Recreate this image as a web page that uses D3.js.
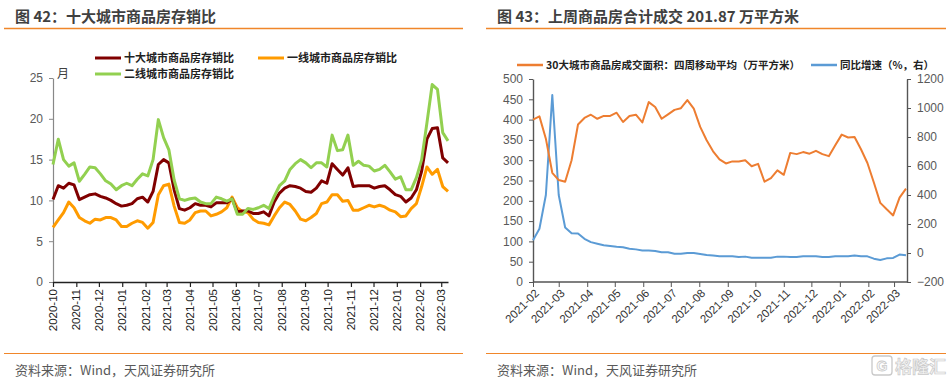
<!DOCTYPE html>
<html><head><meta charset="utf-8">
<script src="https://cdn.jsdelivr.net/npm/d3@7"></script>
<style>
html,body{margin:0;padding:0;background:#fff;}
svg{display:block;}
text{font-family:"Liberation Sans",Arial,"Noto Sans CJK SC",sans-serif;}
.cjk{font-family:"Noto Sans CJK SC","Liberation Sans",sans-serif;}
</style></head>
<body>
<svg id="c" width="948" height="382"></svg>
<script>
// ---------- Left chart data (weekly, 存销比, 月) ----------
const leftStart = "2020-10-01";
const leftTicks = ["2020-10","2020-11","2020-12","2021-01","2021-02","2021-03","2021-04","2021-05","2021-06","2021-07","2021-08","2021-09","2021-10","2021-11","2021-12","2022-01","2022-02","2022-03"];
const leftYTicks = [0,5,10,15,20,25];
const tenCity = [10.1,11.8,11.5,12.1,11.9,10.1,10.4,10.7,10.8,10.5,10.3,10.0,9.6,9.3,9.4,9.6,10.2,10.4,9.8,11.1,14.4,15.0,14.6,11.3,9.0,8.8,9.1,9.6,9.4,9.4,9.2,9.7,9.7,9.7,10.2,8.6,8.7,8.7,8.4,8.4,8.6,8.1,9.8,10.9,11.5,11.8,11.7,11.5,11.1,11.0,11.5,12.4,12.1,14.5,13.8,13.1,14.0,11.7,11.8,11.8,11.8,11.5,11.7,11.8,11.3,10.7,10.5,9.8,10.3,11.3,13.6,17.5,18.8,18.9,15.2,14.6];
const firstTier = [6.7,7.6,8.5,9.8,9.1,7.9,7.5,7.2,7.7,7.6,7.9,7.9,7.6,6.8,6.8,7.2,7.5,7.3,6.6,7.3,10.7,11.8,12.0,9.3,7.3,7.2,7.6,8.5,8.7,8.7,8.1,8.3,8.6,9.1,10.4,9.1,8.6,8.5,7.7,7.3,7.2,7.0,8.1,9.1,9.8,9.5,8.7,7.7,7.5,7.9,8.4,9.6,9.8,10.7,10.7,9.9,10.0,8.8,8.8,9.1,9.4,9.2,9.4,9.2,8.8,8.6,8.0,8.1,9.0,9.6,11.7,14.1,13.2,13.8,11.7,11.1];
const secondTier = [14.4,17.5,15.0,14.2,14.6,12.35,13.2,14.1,14.0,13.25,12.4,12.0,11.3,11.8,12.1,11.8,12.6,13.25,13.0,15.0,19.9,17.7,16.2,12.5,10.2,10.0,10.2,10.3,9.8,9.6,9.6,10.4,10.2,9.9,10.2,8.3,8.3,9.0,8.9,9.1,9.4,9.0,10.5,11.8,12.4,13.8,14.5,15.0,14.6,14.0,14.6,14.6,14.1,18.0,16.1,16.2,18.0,14.3,14.8,14.3,14.2,13.6,13.8,14.3,13.5,12.6,12.9,11.3,11.3,12.8,15.0,19.5,24.2,23.6,18.3,17.3];
const leftNames = ["十大城市商品房存销比","一线城市商品房存销比","二线城市商品房存销比"];

// ---------- Right chart data (weekly) ----------
const rightStart = "2021-02-01";
const rightTicks = ["2021-02","2021-03","2021-04","2021-05","2021-06","2021-07","2021-08","2021-09","2021-10","2021-11","2021-12","2022-01","2022-02","2022-03"];
const rightYTicksL = [0,50,100,150,200,250,300,350,400,450,500];
const rightYTicksR = [-200,0,200,400,600,800,1000,1200];
const area30 = [400,408,353,269,251,247,300,388,404,412,402,409,409,417,394,409,412,393,443,431,402,413,424,428,448,427,382,349,322,302,292,297,297,300,285,291,247,256,275,264,318,315,320,316,323,315,310,337,363,356,357,327,293,245,195,179,164,208,230];
const yoy = [88,167,400,1090,400,176,137,135,98,75,64,53,48,43,39,30,25,18,18,14,5,5,-5,-5,0,0,-7,-14,-18,-23,-23,-23,-27,-25,-32,-32,-32,-32,-25,-25,-27,-27,-23,-23,-23,-27,-27,-23,-23,-23,-18,-23,-23,-39,-48,-37,-34,-11,-16];
const rightNames = ["30大城市商品房成交面积：四周移动平均（万平方米）","同比增速（%，右）"];

const svg = d3.select("#c");
const parseDay = d3.timeParse("%Y-%m-%d");
const parseMonth = d3.timeParse("%Y-%m");
const weekly = (start, n) => d3.range(n).map(i => d3.timeDay.offset(parseDay(start), 7*i));
const ACC = "#F0862A";
const TXT = "#404040";
const LBL = "#595959";

// ---------- Frame: titles, rules, footers ----------
function frame(x0, x1, tx, title) {
  svg.append("text").attr("class","cjk").attr("x",tx).attr("y",22)
    .attr("font-size",15).attr("font-weight","bold").attr("fill",TXT).text(title);
  svg.append("line").attr("x1",x0).attr("x2",x1).attr("y1",28.5).attr("y2",28.5)
    .attr("stroke",ACC).attr("stroke-width",1.5);
  svg.append("line").attr("x1",x0).attr("x2",x1).attr("y1",353.5).attr("y2",353.5)
    .attr("stroke",ACC).attr("stroke-width",1.2);
  svg.append("text").attr("class","cjk").attr("x",tx).attr("y",375)
    .attr("font-size",13).attr("fill",LBL).text("资料来源：Wind，天风证券研究所");
}
frame(4, 463, 15, "图 42：十大城市商品房存销比");
frame(486, 946, 497, "图 43：上周商品房合计成交 201.87 万平方米");

// ---------- Left chart ----------
{
  const dates = weekly(leftStart, tenCity.length);
  const x = d3.scaleTime().domain([dates[0], dates[dates.length-1]]).range([53, 448]);
  const y = d3.scaleLinear().domain([0,25]).range([282, 78]);
  const g = svg.append("g");
  const ya = g.append("g").attr("transform","translate(53,0)")
    .call(d3.axisLeft(y).tickValues(leftYTicks).tickSize(4).tickSizeOuter(0).tickPadding(6));
  ya.select(".domain").attr("stroke","#888").attr("stroke-width",1.2);
  ya.selectAll(".tick line").attr("stroke","#888");
  ya.selectAll("text").attr("font-size",12).attr("fill",LBL);
  g.append("text").attr("class","cjk").attr("x",57).attr("y",78).attr("font-size",12).attr("fill",TXT).text("月");
  const xa = g.append("g").attr("transform","translate(0,282)")
    .call(d3.axisBottom(x).tickValues(leftTicks.map(parseMonth)).tickSize(5).tickSizeOuter(0).tickFormat(""));
  xa.select(".domain").attr("stroke","#222").attr("stroke-width",1.6);
  xa.selectAll(".tick line").attr("stroke","#222").attr("stroke-width",1.2);
  g.selectAll("text.xl").data(leftTicks).join("text").attr("class","xl")
    .attr("transform", d => `translate(${x(parseMonth(d))},289) rotate(-90)`)
    .attr("text-anchor","end").attr("dy","0.35em").attr("font-size",11.5).attr("fill","#222").text(d => d);
  const series = [[tenCity,"#800000"],[firstTier,"#FF9B00"],[secondTier,"#92D050"]];
  const line = d3.line().x((d,i) => x(dates[i])).y(d => y(d));
  [series[1], series[0], series[2]].forEach(([vals,col]) => {
    g.append("path").datum(vals).attr("d",line).attr("fill","none")
      .attr("stroke",col).attr("stroke-width",3).attr("stroke-linejoin","round");
  });
  const leg = [[95,58,series[0][1],leftNames[0]],[258,58,series[1][1],leftNames[1]],[95,74,series[2][1],leftNames[2]]];
  leg.forEach(([lx,ly,col,name]) => {
    g.append("line").attr("x1",lx).attr("x2",lx+26).attr("y1",ly).attr("y2",ly).attr("stroke",col).attr("stroke-width",3);
    g.append("text").attr("class","cjk").attr("x",lx+29).attr("y",ly).attr("dy","0.36em")
      .attr("font-size",11).attr("font-weight","bold").attr("fill","#222").text(name);
  });
}

// ---------- Right chart ----------
{
  const dates = weekly(rightStart, area30.length);
  const x = d3.scaleTime().domain([dates[0], dates[dates.length-1]]).range([533, 906]);
  const yL = d3.scaleLinear().domain([0,500]).range([282, 79]);
  const yR = d3.scaleLinear().domain([-200,1200]).range([282, 79]);
  const g = svg.append("g");
  const la = g.append("g").attr("transform","translate(533,0)")
    .call(d3.axisLeft(yL).tickValues(rightYTicksL).tickSize(4).tickSizeOuter(0).tickPadding(6).tickFormat(d3.format("d")));
  la.select(".domain").attr("stroke","#555").attr("stroke-width",1.4);
  la.selectAll(".tick line").attr("stroke","#555");
  la.selectAll("text").attr("font-size",12).attr("fill",LBL);
  const ra = g.append("g").attr("transform","translate(907,0)")
    .call(d3.axisRight(yR).tickValues(rightYTicksR).tickSize(4).tickSizeOuter(0).tickPadding(6).tickFormat(d3.format("d")));
  ra.select(".domain").attr("stroke","#555").attr("stroke-width",1.4);
  ra.selectAll(".tick line").attr("stroke","#555");
  ra.selectAll("text").attr("font-size",12).attr("fill",LBL);
  const xa = g.append("g").attr("transform","translate(0,282)")
    .call(d3.axisBottom(x).tickValues(rightTicks.map(parseMonth)).tickSize(5).tickSizeOuter(0).tickFormat(""));
  xa.select(".domain").attr("stroke","#555").attr("stroke-width",1.4).attr("d","M533,0H907");
  xa.selectAll(".tick line").attr("stroke","#555");
  g.selectAll("text.xl").data(rightTicks).join("text").attr("class","xl")
    .attr("transform", d => `translate(${x(parseMonth(d))+4},291) rotate(-45)`)
    .attr("text-anchor","end").attr("dy","0.35em").attr("font-size",11.5).attr("fill","#333").text(d => d);
  const lineL = d3.line().x((d,i) => x(dates[i])).y(d => yL(d));
  const lineR = d3.line().x((d,i) => x(dates[i])).y(d => yR(d));
  g.append("path").datum(yoy).attr("d",lineR).attr("fill","none").attr("stroke","#5B9BD5").attr("stroke-width",2).attr("stroke-linejoin","round");
  g.append("path").datum(area30).attr("d",lineL).attr("fill","none").attr("stroke","#ED7D31").attr("stroke-width",2).attr("stroke-linejoin","round");
  const leg = [[517,65,"#ED7D31",rightNames[0]],[811,65,"#5B9BD5",rightNames[1]]];
  leg.forEach(([lx,ly,col,name]) => {
    g.append("line").attr("x1",lx).attr("x2",lx+26).attr("y1",ly).attr("y2",ly).attr("stroke",col).attr("stroke-width",2.5);
    g.append("text").attr("class","cjk").attr("x",lx+29).attr("y",ly).attr("dy","0.36em")
      .attr("font-size",10.5).attr("font-weight","bold").attr("fill","#222").text(name);
  });
  const wm = svg.append("g").attr("opacity",0.9);
  wm.append("rect").attr("x",872).attr("y",356).attr("width",20).attr("height",19).attr("rx",3)
    .attr("fill","none").attr("stroke","#c4c4c4").attr("stroke-width",1.3);
  wm.append("text").attr("x",882).attr("y",370.5).attr("text-anchor","middle").attr("font-size",14).attr("font-weight","bold")
    .attr("fill","#fff").attr("stroke","#c4c4c4").attr("stroke-width",0.8).text("G");
  wm.append("text").attr("class","cjk").attr("x",895).attr("y",373).attr("font-size",17).attr("font-weight","bold")
    .attr("fill","#f2f2f2").attr("stroke","#c4c4c4").attr("stroke-width",0.7).text("格隆汇");
}
</script>
</body></html>
